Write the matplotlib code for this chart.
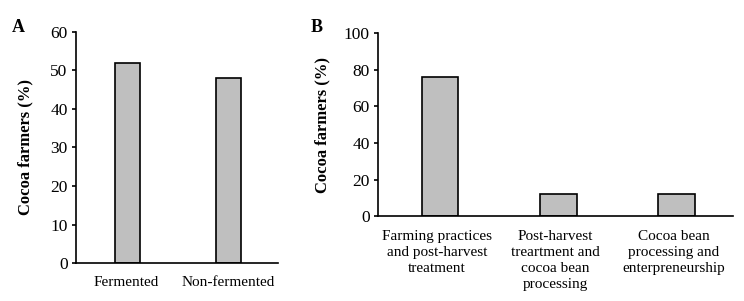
import matplotlib.pyplot as plt
import numpy as np

plt.rcParams["font.family"] = ["Liberation Serif", "DejaVu Serif"]

# Panel A: fermentation practice
a_labels = ["Fermented", "Non-fermented"]
a_values = [52, 48]

# Panel B: training needs
b_labels = ["Farming practices\nand post-harvest\ntreatment",
            "Post-harvest\ntreartment and\ncocoa bean\nprocessing",
            "Cocoa bean\nprocessing and\nenterpreneurship"]
b_values = [76, 12, 12]

BAR_COLOR = "#bfbfbf"


def style_axis(ax, ymax, step):
    ax.spines["top"].set_visible(False)
    ax.spines["right"].set_visible(False)
    ax.spines["left"].set_linewidth(1.2)
    ax.spines["bottom"].set_linewidth(1.2)
    ax.set_ylim(0, ymax)
    ax.set_yticks(np.arange(0, ymax + 1, step))
    ax.tick_params(axis="y", direction="out", length=3, width=1.2,
                   labelsize=12.5, pad=3)
    ax.tick_params(axis="x", length=0, labelsize=11, pad=9)
    ax.set_ylabel("Cocoa farmers (%)", fontsize=12, fontweight="bold")


fig = plt.figure(figsize=(7.44, 3.01), dpi=100)

ax_a = fig.add_axes([0.102, 0.126, 0.272, 0.768])
xa = np.arange(len(a_values))
ax_a.bar(xa + 0.01, a_values, width=0.25, color=BAR_COLOR,
         edgecolor="black", linewidth=1.2)
ax_a.set_xlim(-0.5, len(a_values) - 0.5)
ax_a.set_xticks(xa)
ax_a.set_xticklabels(a_labels)
style_axis(ax_a, 60, 10)
ax_a.yaxis.set_label_coords(-0.21, 0.5)

ax_b = fig.add_axes([0.508, 0.282, 0.477, 0.608])
xb = np.arange(len(b_values))
ax_b.bar(xb + 0.025, b_values, width=0.31, color=BAR_COLOR,
         edgecolor="black", linewidth=1.2)
ax_b.set_xlim(-0.5, len(b_values) - 0.5)
ax_b.set_xticks(xb)
ax_b.set_xticklabels(b_labels, linespacing=1.3, va="top")
style_axis(ax_b, 100, 20)
ax_b.tick_params(axis="x", pad=10)
ax_b.yaxis.set_label_coords(-0.135, 0.5)

fig.text(0.025, 0.91, "A", fontsize=13, fontweight="bold",
         ha="center", va="center")
fig.text(0.426, 0.91, "B", fontsize=13, fontweight="bold",
         ha="center", va="center")

fig.savefig("out.png", dpi=100)
